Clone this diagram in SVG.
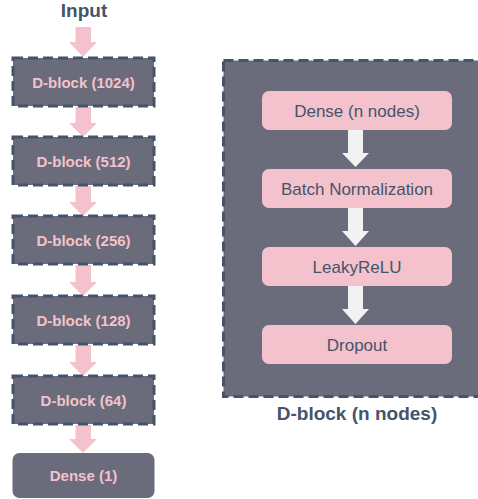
<svg xmlns="http://www.w3.org/2000/svg" width="478" height="499" viewBox="0 0 478 499">
  <defs>
    <style>
      .block { fill: #6A6B7B; stroke: #44546A; stroke-width: 3; stroke-dasharray: 10 5; }
      .dense { fill: #6A6B7B; }
      .step { fill: #F4C2CC; }
      .lbl { font-family: "Liberation Sans", Arial, sans-serif; font-weight: bold; font-size: 15px; fill: #F4C2CC; text-anchor: middle; }
      .title { font-family: "Liberation Sans", Arial, sans-serif; font-weight: bold; font-size: 19px; fill: #44546A; text-anchor: middle; }
      .steplbl { font-family: "Liberation Sans", Arial, sans-serif; font-size: 17px; fill: #44546A; text-anchor: middle; }
      .pinkarrow { fill: #F4C2CC; }
      .whitearrow { fill: #F2F2F2; }
    </style>
  </defs>

  <rect width="478" height="499" fill="#FFFFFF"/>

  <!-- left column heading -->
  <text class="title" x="84" y="17">Input</text>

  <!-- expanded D-block panel -->
  <g id="dblock-panel">
    <rect class="block" x="223.5" y="60.5" width="262" height="336"/>
    <text class="title" x="357" y="420">D-block (n nodes)</text>
  </g>

  <!-- connectors -->
  <g id="connectors">
    <!-- left column: block arrows -->
    <polygon class="pinkarrow" points="75.5,27 91,27 91,42 97,42 83,57 69,42 75.5,42"/>
    <polygon class="pinkarrow" points="75.5,107 91,107 91,123 97,123 83,137 69,123 75.5,123"/>
    <polygon class="pinkarrow" points="75.5,186 91,186 91,202 97,202 83,216 69,202 75.5,202"/>
    <polygon class="pinkarrow" points="75.5,265 91,265 91,282 97,282 83,296 69,282 75.5,282"/>
    <polygon class="pinkarrow" points="75.5,345 91,345 91,362 97,362 83,376 69,362 75.5,362"/>
    <polygon class="pinkarrow" points="75.5,425 91,425 91,439 97,439 83,453 69,439 75.5,439"/>
    <!-- panel: white block arrows -->
    <polygon class="whitearrow" points="348,130 363,130 363,153 369,153 355.5,167 342,153 348,153"/>
    <polygon class="whitearrow" points="348,208 363,208 363,231 369,231 355.5,246 342,231 348,231"/>
    <polygon class="whitearrow" points="348,286 363,286 363,309 369,309 355.5,324 342,309 348,309"/>
  </g>

  <!-- left column nodes -->
  <g id="dblock-1024">
    <rect class="block" x="13" y="58" width="141" height="48"/>
    <text class="lbl" x="83.5" y="87.5">D-block (1024)</text>
  </g>
  <g id="dblock-512">
    <rect class="block" x="13" y="137" width="141" height="48"/>
    <text class="lbl" x="83.5" y="166.5">D-block (512)</text>
  </g>
  <g id="dblock-256">
    <rect class="block" x="13" y="216" width="141" height="48"/>
    <text class="lbl" x="83.5" y="245.5">D-block (256)</text>
  </g>
  <g id="dblock-128">
    <rect class="block" x="13" y="296" width="141" height="48"/>
    <text class="lbl" x="83.5" y="325.5">D-block (128)</text>
  </g>
  <g id="dblock-64">
    <rect class="block" x="13" y="376" width="141" height="48"/>
    <text class="lbl" x="83.5" y="405.5">D-block (64)</text>
  </g>
  <g id="dense-1">
    <rect class="dense" x="12.5" y="453" width="142" height="45" rx="7"/>
    <text class="lbl" x="83.5" y="481">Dense (1)</text>
  </g>

  <!-- panel nodes -->
  <g id="step-dense">
    <rect class="step" x="262" y="91" width="190" height="39" rx="7"/>
    <text class="steplbl" x="357" y="116.5">Dense (n nodes)</text>
  </g>
  <g id="step-batchnorm">
    <rect class="step" x="262" y="169" width="190" height="39" rx="7"/>
    <text class="steplbl" x="357" y="194.5">Batch Normalization</text>
  </g>
  <g id="step-leakyrelu">
    <rect class="step" x="262" y="247" width="190" height="39" rx="7"/>
    <text class="steplbl" x="357" y="272.5">LeakyReLU</text>
  </g>
  <g id="step-dropout">
    <rect class="step" x="262" y="325" width="190" height="39" rx="7"/>
    <text class="steplbl" x="357" y="350.5">Dropout</text>
  </g>
</svg>
